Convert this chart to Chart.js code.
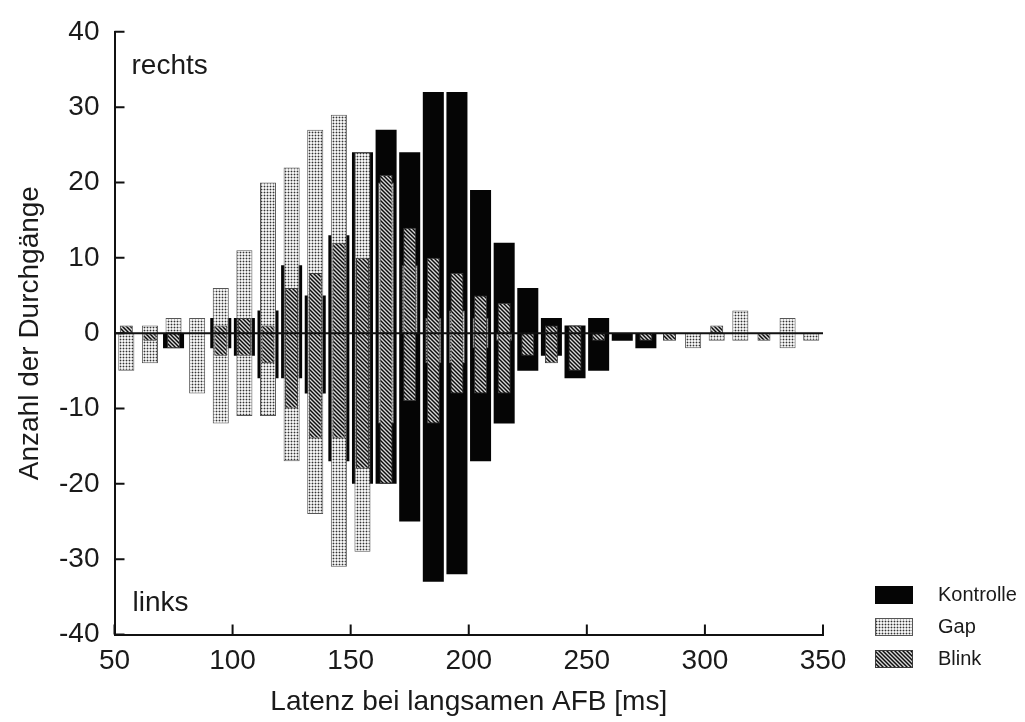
<!DOCTYPE html>
<html>
<head>
<meta charset="utf-8">
<script src="https://cdn.jsdelivr.net/npm/chart.js@4.4.1/dist/chart.umd.min.js"></script>
<style>
  html, body { margin: 0; padding: 0; background: #fff; }
  #wrap { width: 1025px; height: 722px; position: relative; }
</style>
</head>
<body>
<div id="wrap"><canvas id="chart"></canvas></div>
<script>
/* ---------- data: 10 ms bins, counts to the right (rechts) and left (links) ---------- */
const bins = [55, 65, 75, 85, 95, 105, 115, 125, 135, 145, 155, 165, 175, 185, 195,
              205, 215, 225, 235, 245, 255, 265, 275, 285, 295, 305, 315, 325, 335, 345];

const kontrolleRechts = [0, 0, 0, 0, 2, 2, 3, 9, 5, 13, 24, 27, 24, 32, 32,
                         19, 12, 6, 2, 1, 2, 0, 0, 0, 0, 0, 0, 0, 0, 0];
const kontrolleLinks  = [0, 0, 2, 0, 2, 3, 6, 6, 8, 17, 20, 20, 25, 33, 32,
                         17, 12, 5, 3, 6, 5, 1, 2, 0, 0, 0, 0, 0, 0, 0];

const gapRechts = [0, 1, 2, 2, 6, 11, 20, 22, 27, 29, 24, 20, 9, 2, 3,
                   2, 0, 0, 0, 0, 0, 0, 0, 0, 0, 0, 3, 0, 2, 0];
const gapLinks  = [5, 4, 0, 8, 12, 11, 11, 17, 24, 31, 29, 12, 0, 4, 4,
                   2, 1, 0, 0, 0, 0, 0, 0, 0, 2, 1, 1, 0, 2, 1];

const blinkRechts = [1, 0, 0, 0, 1, 2, 1, 6, 8, 12, 10, 21, 14, 10, 8,
                     5, 4, 0, 1, 1, 0, 0, 0, 0, 0, 1, 0, 0, 0, 0];
const blinkLinks  = [0, 1, 2, 0, 3, 3, 4, 10, 14, 14, 18, 20, 9, 12, 8,
                     8, 8, 3, 4, 5, 1, 0, 1, 1, 0, 0, 0, 1, 0, 0];

const xTicks = [50, 100, 150, 200, 250, 300, 350];
const yTicks = [-40, -30, -20, -10, 0, 10, 20, 30, 40];

/* ---------- fill patterns ---------- */
function makePattern(size, paint) {
  const c = document.createElement("canvas");
  c.width = size; c.height = size;
  const g = c.getContext("2d");
  paint(g);
  return g.createPattern(c, "repeat");
}

const gapFill = makePattern(3, g => {
  g.fillStyle = "#f2f2f2"; g.fillRect(0, 0, 3, 3);
  g.fillStyle = "#b5b5b5"; g.fillRect(0, 0, 3, 1); g.fillRect(0, 0, 1, 3);
  g.fillStyle = "#333"; g.fillRect(0, 0, 1, 1);
});

const blinkFill = makePattern(4, g => {
  g.fillStyle = "#6e6e6e"; g.fillRect(0, 0, 4, 4);
  for (let i = 0; i < 4; i++) {
    g.fillStyle = "#0c0c0c"; g.fillRect(i, i, 1, 1);
    g.fillStyle = "#d8d8d8"; g.fillRect(i, (i + 2) % 4, 1, 1);
  }
});

// one floating bar per bin, from -links up to +rechts
function floating(rechts, links) {
  return bins
    .map((b, i) => ({ x: b, y: [-links[i], rechts[i]] }))
    .filter((d, i) => rechts[i] || links[i]);
}

const FONT = "'Liberation Sans', Arial, sans-serif";
Chart.defaults.font.family = FONT;
Chart.defaults.color = "#1a1a1a";

/* ---------- extra drawing: inward ticks, zero line, side labels, legend ---------- */
const decorations = {
  id: "decorations",
  afterDatasetsDraw(chart) {
    const { ctx, chartArea: a, scales: { y } } = chart;
    ctx.save();
    ctx.strokeStyle = "#111";
    ctx.lineWidth = 2;
    const z = y.getPixelForValue(0);
    ctx.beginPath();
    ctx.moveTo(a.left, z);
    ctx.lineTo(a.right, z);
    ctx.stroke();
    ctx.restore();
  },
  afterDraw(chart) {
    const { ctx, chartArea: a, scales: { x, y } } = chart;
    ctx.save();
    ctx.strokeStyle = "#111";
    ctx.lineWidth = 2;
    ctx.beginPath();
    yTicks.forEach(v => {
      const py = y.getPixelForValue(v);
      ctx.moveTo(a.left, py);
      ctx.lineTo(a.left + 10, py);
    });
    xTicks.forEach(v => {
      const px = x.getPixelForValue(v);
      ctx.moveTo(px, a.bottom);
      ctx.lineTo(px, a.bottom - 10);
    });
    ctx.stroke();

    ctx.fillStyle = "#1a1a1a";
    ctx.font = "28px " + FONT;
    ctx.textAlign = "left";
    ctx.textBaseline = "alphabetic";
    ctx.fillText("rechts", a.left + 17, a.top + 42);
    ctx.fillText("links", a.left + 18, a.bottom - 24);

    // legend
    ctx.font = "20px " + FONT;
    ctx.textBaseline = "middle";
    chart.data.datasets.forEach((ds, i) => {
      const cy = 595 + i * 32;
      ctx.fillStyle = ds.backgroundColor;
      ctx.fillRect(875, cy - 9, 38, 18);
      if (ds.borderWidth) {
        ctx.strokeStyle = ds.borderColor;
        ctx.lineWidth = 1;
        ctx.strokeRect(875.5, cy - 8.5, 37, 17);
      }
      ctx.fillStyle = "#1a1a1a";
      ctx.fillText(ds.label, 938, cy);
    });
    ctx.restore();
  }
};

new Chart(document.getElementById("chart"), {
  type: "bar",
  data: {
    datasets: [
      {
        label: "Kontrolle",
        data: floating(kontrolleRechts, kontrolleLinks),
        backgroundColor: "#050505",
        borderWidth: 0,
        barPercentage: 0.89,
        order: 3
      },
      {
        label: "Gap",
        data: floating(gapRechts, gapLinks),
        backgroundColor: gapFill,
        borderColor: "#555",
        borderWidth: 1,
        borderSkipped: false,
        barPercentage: 0.68,
        order: 2
      },
      {
        label: "Blink",
        data: floating(blinkRechts, blinkLinks),
        backgroundColor: blinkFill,
        borderColor: "#3a3a3a",
        borderWidth: 1,
        borderSkipped: false,
        barPercentage: 0.55,
        order: 1
      }
    ]
  },
  options: {
    responsive: true,
    maintainAspectRatio: false,
    animation: false,
    layout: { padding: { left: 0, top: 23, right: 202, bottom: 0 } },
    datasets: { bar: { grouped: false, categoryPercentage: 1 } },
    plugins: {
      legend: { display: false },
      tooltip: { enabled: false }
    },
    scales: {
      x: {
        type: "linear",
        min: 50,
        max: 350,
        offset: false,
        afterFit: s => { s.height = 87.5; },
        afterBuildTicks: s => { s.ticks = xTicks.map(v => ({ value: v })); },
        ticks: { font: { size: 28 }, padding: 10, color: "#1a1a1a" },
        grid: { display: false, drawTicks: false, offset: false },
        border: { display: true, color: "#111", width: 2 },
        title: {
          display: true,
          text: "Latenz bei langsamen AFB [ms]",
          font: { size: 28 },
          color: "#1a1a1a",
          padding: { top: 0, bottom: 3 }
        }
      },
      y: {
        min: -40,
        max: 40,
        afterFit: s => { s.width = 114.5; },
        afterBuildTicks: s => { s.ticks = yTicks.map(v => ({ value: v })); },
        ticks: { font: { size: 28 }, padding: 15, color: "#1a1a1a" },
        grid: { display: false, drawTicks: false },
        border: { display: true, color: "#111", width: 2 },
        title: {
          display: true,
          text: "Anzahl der Durchgänge",
          font: { size: 28 },
          color: "#1a1a1a",
          padding: { top: 13, bottom: 0 }
        }
      }
    }
  },
  plugins: [decorations]
});
</script>
</body>
</html>
